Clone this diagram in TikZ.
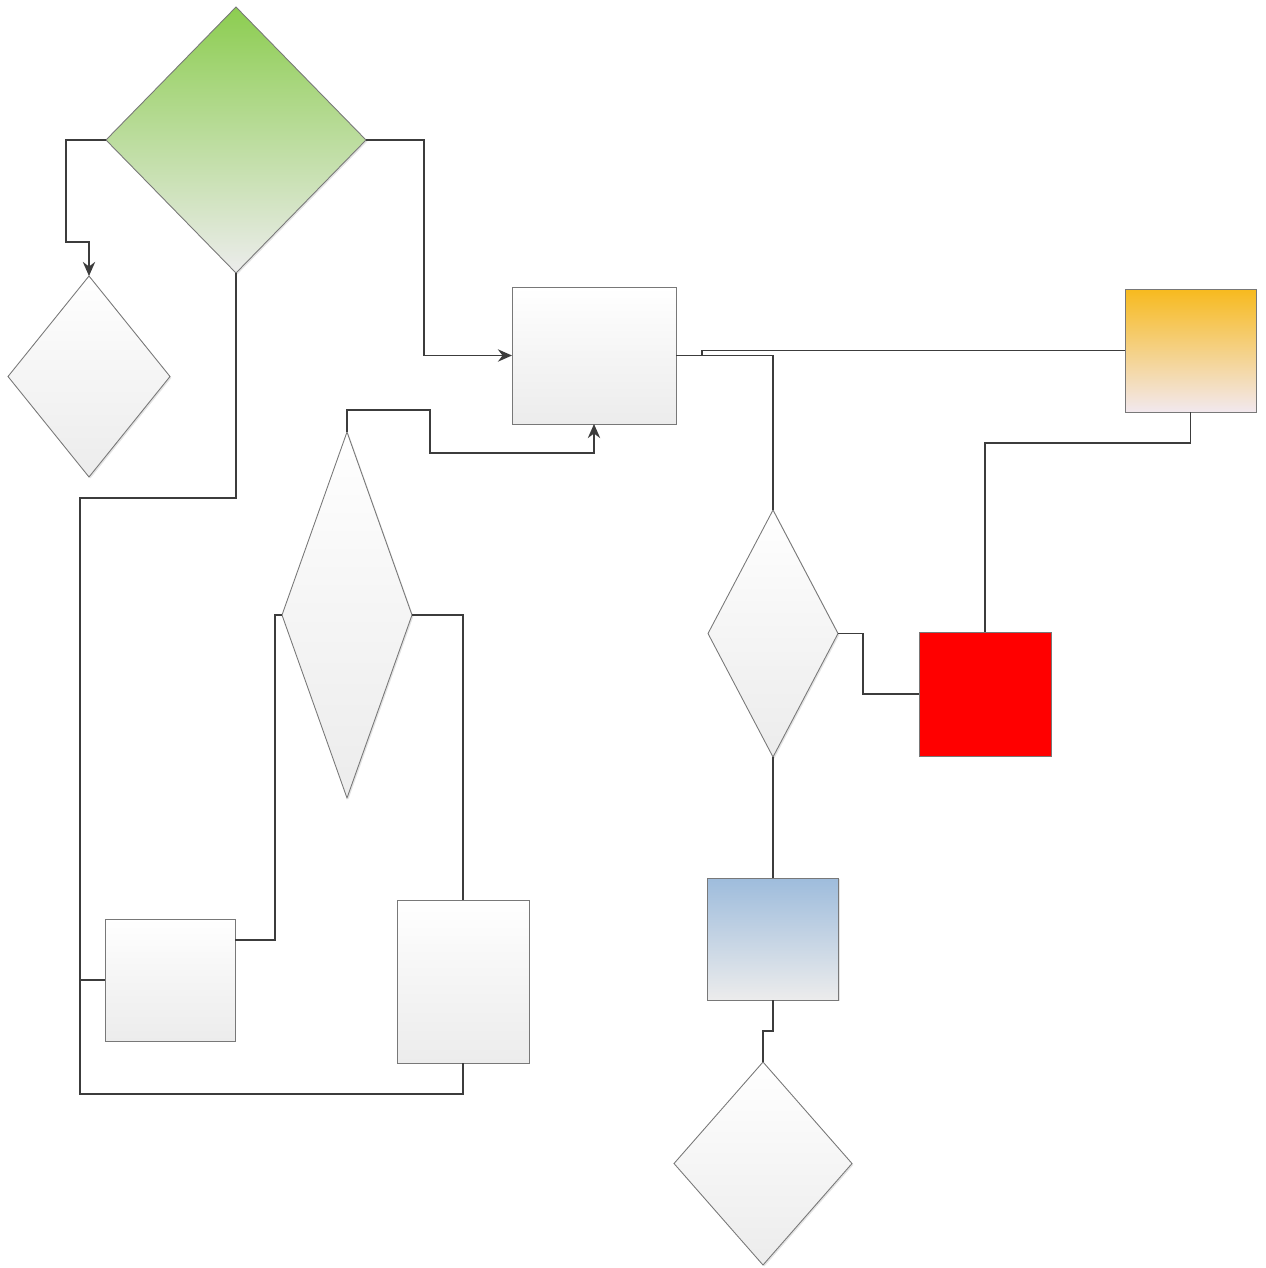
\documentclass[tikz,border=0pt]{standalone}
\usepackage{tikz}
\usetikzlibrary{arrows.meta,shapes.geometric,shadows}
\definecolor{flgreen}{RGB}{140,205,80}
\definecolor{florange}{RGB}{247,186,30}
\definecolor{flblue}{RGB}{158,188,220}
\definecolor{flpale}{RGB}{236,236,236}
\definecolor{flpink}{RGB}{242,232,238}
\definecolor{flline}{RGB}{60,60,60}
\definecolor{fledge}{RGB}{120,120,120}

\begin{document}
\begin{tikzpicture}[x=0.02cm, y=-0.02cm,
    shp/.style={draw=fledge, line width=0.5pt, inner sep=0pt, outer sep=0pt,
                drop shadow={shadow xshift=0.8pt, shadow yshift=-0.8pt,
                             fill=gray!35, opacity=0.6}},
    dia/.style={shp, diamond},
    box/.style={shp, rectangle},
    plain/.style={top color=white, bottom color=flpale, middle color=white!92!gray},
    conn/.style={draw=flline, line width=1.1pt},
    arr/.style={conn, -{Stealth[length=8pt, width=7pt]}}
  ]
    \useasboundingbox (0,0) rectangle (1266,1268);

    % Diamonds
    \node[dia, minimum width=260*0.02cm, minimum height=266*0.02cm,
          top color=flgreen, bottom color=flpale]          (gdia) at (236,140)    {};
    \node[dia, plain, minimum width=162*0.02cm, minimum height=201*0.02cm] (ldia) at (89,376.5)   {};
    \node[dia, plain, minimum width=130*0.02cm, minimum height=366*0.02cm] (tdia) at (347,615)    {};
    \node[dia, plain, minimum width=130*0.02cm, minimum height=247*0.02cm] (rdia) at (773,633.5)  {};
    \node[dia, top color=white, bottom color=flpale,
          minimum width=178*0.02cm, minimum height=203*0.02cm] (bdia) at (763,1163.5) {};

    % Boxes
    \node[box, plain, minimum width=164*0.02cm, minimum height=137*0.02cm] (hub)   at (594,355.5)  {};
    \node[box, top color=florange, bottom color=flpink,
          minimum width=131*0.02cm, minimum height=123*0.02cm]  (orng)  at (1190.5,350.5) {};
    \node[box, fill=red, minimum width=132*0.02cm, minimum height=124*0.02cm] (red) at (985,694) {};
    \node[box, top color=flblue, bottom color=flpale,
          minimum width=131*0.02cm, minimum height=122*0.02cm]  (blue)  at (773,939)  {};
    \node[box, plain, minimum width=130*0.02cm, minimum height=122*0.02cm] (lrect) at (170,980)    {};
    \node[box, plain, minimum width=132*0.02cm, minimum height=163*0.02cm] (mrect) at (463,981.5)  {};

    \coordinate (lrjoin) at (235,940);

    % Connectors
    \draw[arr]  (gdia.west) -| (66,242) -| (ldia.north);
    \draw[arr]  (gdia.east) -| (424,355.5) -- (hub.west);
    \draw[conn] (gdia.south) |- (80,498) |- (lrect.west);
    \draw[conn] (mrect.south) |- (80,1094) |- (lrect.west);
    \draw[arr]  (tdia.north) |- (430,410) |- (594,453) -- (hub.south);
    \draw[conn] (tdia.west) -| (275,940) -- (lrjoin);
    \draw[conn] (tdia.east) -| (mrect.north);
    \draw[conn] (hub.east) -| (rdia.north);
    \draw[conn] (orng.west) -| (702,355.5) -- (hub.east);
    \draw[conn] (orng.south) -- ++(0,31) -| (red.north);
    \draw[conn] (rdia.east) -- ++(25,0) |- (red.west);
    \draw[conn] (rdia.south) -- (blue.north);
    \draw[conn] (blue.south) -- ++(0,31) -| (bdia.north);
\end{tikzpicture}
\end{document}
